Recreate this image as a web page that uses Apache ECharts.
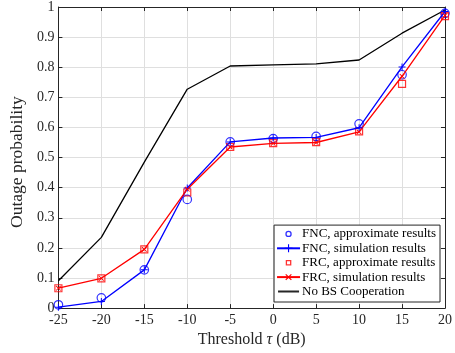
<!DOCTYPE html><html><head><meta charset="utf-8">
<script src="https://cdn.jsdelivr.net/npm/echarts@6/dist/echarts.min.js"></script>
<style>html,body{margin:0;padding:0;background:#fff}#c{width:455px;height:353px}</style>
</head><body><div id="c"></div><script>
const thresholds=[-25,-20,-15,-10,-5,0,5,10,15,20];
const fncApprox=[0.011,0.034,0.127,0.361,0.552,0.563,0.570,0.612,0.775,0.979];
const fncSim=[0.003,0.022,0.127,0.399,0.552,0.565,0.567,0.599,0.801,0.985];
const frcApprox=[0.066,0.099,0.195,0.384,0.535,0.548,0.551,0.587,0.745,0.970];
const frcSim=[0.066,0.099,0.195,0.395,0.535,0.547,0.550,0.585,0.770,0.972];
const noCoop=[0.091,0.235,0.485,0.727,0.804,0.808,0.811,0.824,0.913,0.990];
const seriesNames=['FNC, approximate results','FNC, simulation results','FRC, approximate results','FRC, simulation results','No BS Cooperation'];
const xLabel='Threshold';
const yLabel='Outage probability';

const F='Liberation Serif';
const AX='#262626';
const pair=a=>thresholds.map((t,i)=>[t,a[i]]);
const plus='path://M4.3,0h1.4v4.3h4.3v1.4h-4.3v4.3h-1.4v-4.3h-4.3v-1.4h4.3z';
// legend icons drawn in a 21x10 box (tiny corner dots fix the bounding box)
const corners='M0,0h0.01v0.01h-0.01z M20.99,9.99h0.01v0.01h-0.01z ';
const iconRing='path://'+corners+'M7.3,5 A3.2,3.2 0 1,0 13.7,5 A3.2,3.2 0 1,0 7.3,5 Z M8.6,5 A1.9,1.9 0 1,1 12.4,5 A1.9,1.9 0 1,1 8.6,5 Z';
const iconSquare='path://'+corners+'M7.7,2.3h5.6v5.6h-5.6z M9,3.6v3h3v-3z';
const iconLine='path://'+corners+'M0,4h21v2h-21z';
const chart=echarts.init(document.getElementById('c'),null,{renderer:'canvas'});
const axisCommon={
  axisLine:{show:true,onZero:false,lineStyle:{color:AX,width:1}},
  axisTick:{show:true,inside:true,length:4,lineStyle:{color:AX}},
  splitLine:{show:false},
};
chart.setOption({
  animation:false,
  backgroundColor:'#fff',
  grid:{left:46.7,right:5.7,top:6,bottom:42},
  xAxis:[
    Object.assign({type:'value',min:-25,max:20,interval:5,position:'bottom',
      name:'{a|'+xLabel+' }{b|τ}{a| (dB)}',nameLocation:'middle',nameGap:18,
      nameTextStyle:{rich:{a:{fontFamily:F,fontSize:16,color:AX},b:{fontFamily:F,fontStyle:'italic',fontSize:16,color:AX}}},
      axisLabel:{fontFamily:F,fontSize:14,color:AX,margin:5},
    },axisCommon,{splitLine:{show:true,lineStyle:{color:'#dfdfdf',width:1}}}),
    Object.assign({type:'value',min:-25,max:20,interval:5,position:'top',axisLabel:{show:false}},axisCommon)
  ],
  yAxis:[
    Object.assign({type:'value',min:0,max:1,interval:0.1,position:'left',
      name:yLabel,nameLocation:'middle',nameGap:32,
      nameTextStyle:{fontFamily:F,fontSize:17.5,color:AX,padding:[0,9,0,0]},
      axisLabel:{fontFamily:F,fontSize:14,color:AX,margin:4},
    },axisCommon,{splitLine:{show:true,lineStyle:{color:'#dfdfdf',width:1}}}),
    Object.assign({type:'value',min:0,max:1,interval:0.1,position:'right',axisLabel:{show:false}},axisCommon)
  ],
  legend:{
    orient:'vertical',right:15,bottom:51,
    backgroundColor:'#fff',borderColor:AX,borderWidth:1,borderRadius:0,
    padding:[2.3,4,4,2],itemGap:1.4,itemWidth:23,itemHeight:10,
    textStyle:{fontFamily:F,fontSize:13,lineHeight:12,color:'#000',padding:[0,0,0,-3]},
    data:[
      {name:seriesNames[0],icon:iconRing,itemStyle:{color:'#0000ff',borderWidth:0}},
      {name:seriesNames[1],lineStyle:{width:2}},
      {name:seriesNames[2],icon:iconSquare,itemStyle:{color:'#ff0000',borderWidth:0}},
      {name:seriesNames[3],lineStyle:{width:2}},
      {name:seriesNames[4],icon:iconLine,itemStyle:{color:'#262626',borderWidth:0}}
    ]
  },
  series:[
    {name:seriesNames[0],type:'scatter',data:pair(fncApprox),symbol:'circle',symbolSize:8.5,
      itemStyle:{color:'transparent',borderColor:'#0000ff',borderWidth:1.2},z:3},
    {name:seriesNames[1],type:'line',data:pair(fncSim),symbol:plus,symbolSize:7,showSymbol:true,
      lineStyle:{color:'#0000ff',width:1.3},itemStyle:{color:'#0000ff'},z:4},
    {name:seriesNames[2],type:'scatter',data:pair(frcApprox),symbol:'rect',symbolSize:7,
      itemStyle:{color:'transparent',borderColor:'#ff0000',borderWidth:1.2},z:3},
    {name:seriesNames[3],type:'line',data:pair(frcSim),symbol:plus,symbolRotate:45,symbolSize:6.5,showSymbol:true,
      lineStyle:{color:'#ff0000',width:1.3},itemStyle:{color:'#ff0000'},z:4},
    {name:seriesNames[4],type:'line',data:pair(noCoop),symbol:'none',
      lineStyle:{color:'#000',width:1.3},itemStyle:{color:'#000'},z:2}
  ]
});
</script></body></html>
